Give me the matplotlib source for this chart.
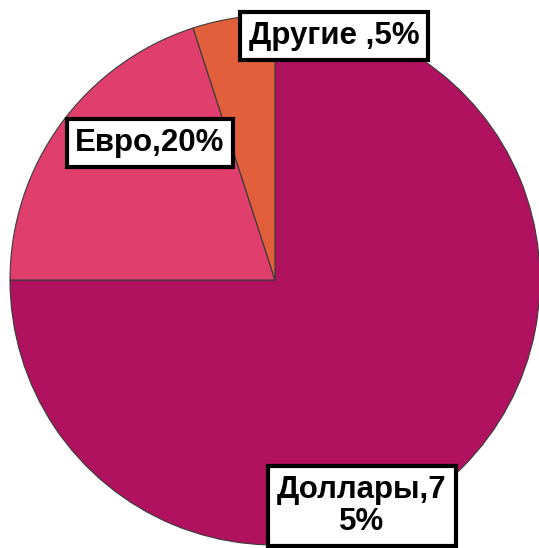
import matplotlib
matplotlib.use('Agg')
import matplotlib.pyplot as plt

labels = ['Доллары', 'Евро', 'Другие ']
shares = [75, 20, 5]
label_text = ['Доллары,7\n5%', 'Евро,20%', 'Другие ,5%']
colors = ['#B0125F', '#E03F6E', '#E25F3C']
# label centres in pixels (x, y from top)
label_pos = [(362, 506), (150, 143), (334, 36)]

W, H = 539, 548
fig = plt.figure(figsize=(W / 100, H / 100), dpi=100)
ax = fig.add_axes([0, 0, 1, 1])

ax.pie(shares, colors=colors, startangle=90, counterclock=False,
       center=(275, H - 280), radius=265, frame=True,
       wedgeprops=dict(edgecolor='#3a3a3a', linewidth=0.8))
ax.set_xlim(0, W)
ax.set_ylim(0, H)
ax.set_aspect('equal')
ax.axis('off')

for txt, (px, py) in zip(label_text, label_pos):
    ax.text(px, H - py, txt, ha='center', va='center', fontsize=22.5,
            fontweight='bold', family=['Liberation Sans', 'DejaVu Sans'],
            linespacing=1.1,
            bbox=dict(boxstyle='square,pad=0.28', fc='white', ec='black', lw=3))

fig.savefig('out.png', dpi=100)
